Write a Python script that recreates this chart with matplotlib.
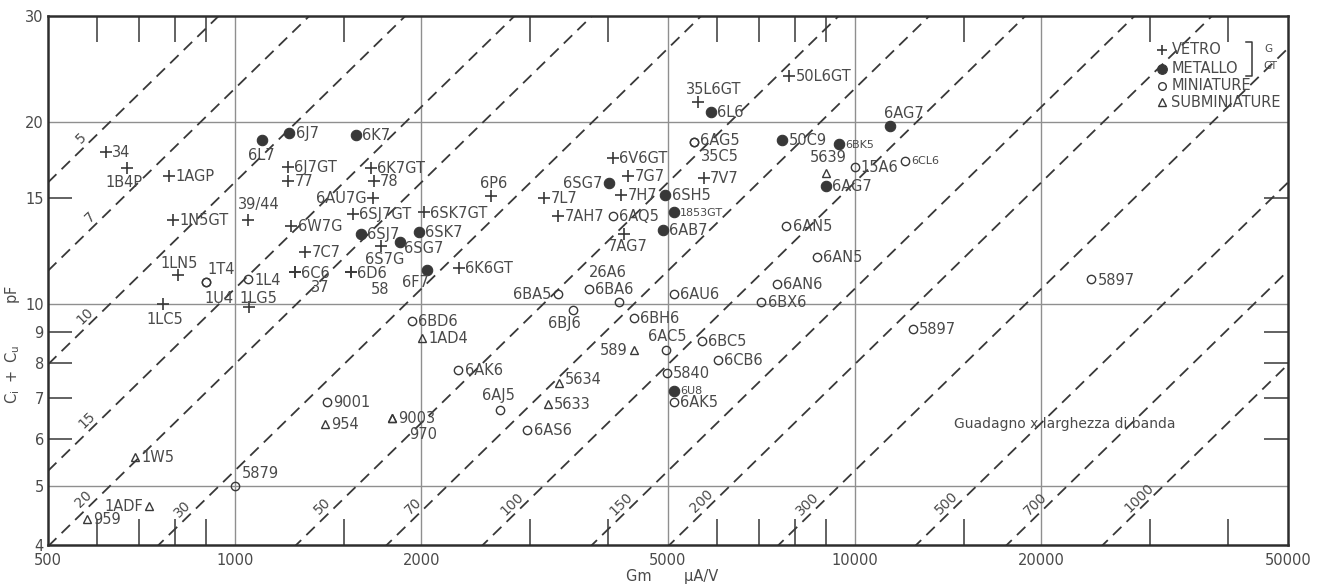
import numpy as np
import matplotlib
matplotlib.use("Agg")
import matplotlib.pyplot as plt
from matplotlib.ticker import NullFormatter

# Tube data: transconductance Gm (µA/V), input + output capacitance (pF), construction
# V = vetro (glass), M = metallo (metal), m = miniature, s = subminiature
names = ["34", "1B4P", "1AGP", "1N5GT", "1LN5", "1T4", "1U4", "39/44", "1L4", "1LG5",
         "1LC5", "6L7", "6J7", "6K7", "6J7GT", "77", "6K7GT", "78", "6AU7G", "6SJ7GT",
         "6W7G", "6SJ7", "6SK7", "6SK7GT", "6SG7", "7C7", "6S7G", "6C6", "37", "6D6",
         "58", "6F7", "6P6", "6K6GT", "6BA5", "6BA6", "26A6", "6BJ6", "6BH6", "6SG7",
         "6V6GT", "7G7", "7L7", "7H7", "6SH5", "7AH7", "6AQ5", "1853GT", "6AB7", "7AG7",
         "35L6GT", "6L6", "50L6GT", "6AG5", "35C5", "7V7", "50C9", "6BK5", "5639", "15A6",
         "6CL6", "6AG7", "6AG7", "6AN5", "6AN5", "6AN6", "6BX6", "6AU6", "6BC5", "6CB6",
         "5840", "6AC5", "6U8", "6AK5", "5897", "5897", "6BD6", "1AD4", "6AK6", "6AJ5",
         "5634", "5633", "6AS6", "589", "9003", "970", "9001", "954", "1W5", "5879",
         "1ADF", "959"]
gm = [620, 670, 785, 795, 810, 900, 900, 1050, 1050, 1055,
      765, 1105, 1225, 1570, 1220, 1220, 1660, 1675, 1670, 1550,
      1235, 1600, 1980, 2020, 1850, 1300, 1720, 1250, 1250, 1540,
      1540, 2040, 2590, 2300, 3320, 3730, 4170, 3515, 4400, 4015,
      4075, 4310, 3155, 4200, 4950, 3325, 4075, 5110, 4905, 4245,
      5590, 5870, 7850, 5510, 5510, 5715, 7645, 9420, 8975, 10000,
      12060, 8975, 11400, 7760, 8680, 7500, 7070, 5110, 5675, 6025,
      4980, 4960, 5110, 5110, 24100, 12400, 1930, 2005, 2295, 2680,
      3335, 3200, 2965, 4400, 1795, 1795, 1410, 1400, 690, 1000,
      728, 577]
cap = [17.9, 16.8, 16.3, 13.8, 11.2, 10.9, 10.9, 13.8, 11.0, 9.9,
       10.0, 18.7, 19.2, 19.1, 16.9, 16.0, 16.8, 16.0, 15.0, 14.1,
       13.5, 13.1, 13.2, 14.2, 12.7, 12.2, 12.5, 11.3, 11.3, 11.3,
       11.3, 11.4, 15.1, 11.5, 10.4, 10.6, 10.1, 9.8, 9.5, 15.9,
       17.5, 16.3, 15.0, 15.2, 15.2, 14.0, 14.0, 14.2, 13.3, 13.1,
       21.6, 20.8, 23.9, 18.6, 18.6, 16.2, 18.7, 18.4, 16.5, 16.9,
       17.3, 15.7, 19.7, 13.5, 12.0, 10.8, 10.1, 10.4, 8.7, 8.1,
       7.7, 8.4, 7.2, 6.9, 11.0, 9.1, 9.4, 8.8, 7.8, 6.7,
       7.4, 6.85, 6.2, 8.4, 6.5, 6.5, 6.9, 6.35, 5.6, 5.0,
       4.64, 4.42]
kind = ["V", "V", "V", "V", "V", "m", "m", "V", "m", "V",
        "V", "M", "M", "M", "V", "V", "V", "V", "V", "V",
        "V", "M", "M", "V", "M", "V", "V", "V", "V", "V",
        "V", "M", "V", "V", "m", "m", "m", "m", "m", "M",
        "V", "V", "V", "V", "M", "V", "m", "M", "M", "V",
        "V", "M", "V", "m", "m", "V", "M", "M", "s", "m",
        "m", "M", "M", "m", "m", "m", "m", "m", "m", "m",
        "m", "m", "M", "m", "m", "m", "m", "s", "m", "m",
        "s", "s", "m", "s", "s", "s", "m", "s", "s", "m",
        "s", "s"]

# Constant gain x bandwidth lines (MHz): Ci+Cu = Gm / (2 pi GB)
gb_lines = [5, 7, 10, 15, 20, 30, 50, 70, 100, 150, 200, 300, 500, 700, 1000]
gb_label_cap = [18.4, 13.6, 9.35, 6.28, 4.65, 4.47, 4.52, 4.52, 4.57, 4.56,
                4.62, 4.56, 4.59, 4.56, 4.68]

x_ticks = [500, 1000, 2000, 5000, 10000, 20000, 50000]
y_ticks = [4, 5, 6, 7, 8, 9, 10, 15, 20, 30]
x_minor = [600, 700, 800, 900, 1500, 3000, 4000, 6000, 7000, 8000, 9000,
           15000, 30000, 40000]
y_minor = [6, 7, 8, 9, 15]
x_grid = [1000, 2000, 5000, 10000, 20000]
y_grid = [5, 10, 20]

legend_kinds = ["V", "M", "m", "s"]
legend_labels = ["VETRO", "METALLO", "MINIATURE", "SUBMINIATURE"]

# ---- layout of the point labels (offset in points, horizontal alignment) ----
R = (4.5, -0.5, "left")
L = (-4.5, -0.5, "right")
label_off = [R] * len(names)
special = {
    1: (-2, -10, "center"), 4: (1, 8, "center"), 5: (1, 9, "left"),
    6: (-1, -12, "left"), 7: (-7, 11, "left"), 9: (-7, 6, "left"),
    10: (2, -11, "center"), 11: (0, -11, "center"), 18: L,
    24: (3, -5, "left"), 26: (3, -10, "center"), 28: (12, -11, "left"),
    30: (14, -12, "left"), 31: (-8, -9, "center"), 32: (2, 9, "center"),
    34: L, 36: (-8, 21, "center"), 37: (-6, -10, "center"), 39: L,
    49: (3, -9, "center"), 50: (11, 9, "center"), 53: (4.5, 1, "left"),
    54: (5, -10.5, "left"),
    58: (2, 11, "center"), 62: (10, 9, "center"), 71: (1, 10, "center"),
    79: (-1, 10, "center"), 80: (4.5, 3, "left"), 83: L,
    85: (12, -12, "left"), 89: (5, 9, "left"), 90: L,
}
for k, v in special.items():
    label_off[k] = v
small_labels = {47, 57, 60, 72}

INK = "#383838"
TXT = "#4a4a4a"
GRID = "#8f8f8f"
mstyle = {
    "V": dict(marker="+", ms=8.5, mew=1.2, mfc="none", mec=INK),
    "M": dict(marker="o", ms=7.5, mew=0.8, mfc=INK, mec=INK),
    "m": dict(marker="o", ms=6.0, mew=1.0, mfc="none", mec=INK),
    "s": dict(marker="^", ms=6.3, mew=1.0, mfc="none", mec=INK),
}

fig = plt.figure(figsize=(13.37, 5.87), dpi=100)
ax = fig.add_axes([48 / 1337, 42 / 587, 1240 / 1337, 529 / 587])
ax.set_xscale("log")
ax.set_yscale("log")
ax.set_xlim(500, 50000)
ax.set_ylim(4, 30)

for x in x_grid:
    ax.axvline(x, color=GRID, lw=1.0, zorder=1)
for y in y_grid:
    ax.axhline(y, color=GRID, lw=1.0, zorder=1)

# diagonal constant-product lines
g = np.geomspace(500, 50000, 400)
for gb in gb_lines:
    ax.plot(g, g / (2 * np.pi * gb), ls=(0, (6.5, 4)), color=INK, lw=1.3, zorder=2)

p0 = ax.transData.transform((1000, 10))
p1 = ax.transData.transform((10000, 100))
ang = np.degrees(np.arctan2(p1[1] - p0[1], p1[0] - p0[0]))
for gb, c in zip(gb_lines, gb_label_cap):
    ax.annotate(str(gb), xy=(2 * np.pi * gb * c, c), xytext=(-1.0, 1.0),
                textcoords="offset points", rotation=ang, rotation_mode="anchor",
                ha="center", va="bottom", fontsize=10, color=TXT, zorder=3)

# tubes
for i, (n, x, y, k) in enumerate(zip(names, gm, cap, kind)):
    ax.plot([x], [y], ls="none", zorder=4, **mstyle[k])
    dx, dy, ha = label_off[i]
    ax.annotate(n, xy=(x, y), xytext=(dx, dy), textcoords="offset points",
                ha=ha, va="center", fontsize=8 if i in small_labels else 10.5,
                color=TXT, zorder=5)

# axes frame and ticks
for s in ax.spines.values():
    s.set_linewidth(1.8)
    s.set_color("#2e2e2e")
ax.set_xticks(x_ticks)
ax.set_xticklabels([str(v) for v in x_ticks])
ax.set_xticks(x_minor, minor=True)
ax.xaxis.set_minor_formatter(NullFormatter())
ax.set_yticks(y_ticks)
ax.set_yticklabels([str(v) for v in y_ticks])
ax.set_yticks(y_minor, minor=True)
ax.yaxis.set_minor_formatter(NullFormatter())
ax.yaxis.remove_overlapping_locs = False
ax.tick_params(which="major", length=0, labelsize=10.5, labelcolor=TXT)
ax.tick_params(axis="x", which="major", pad=6)
ax.tick_params(axis="y", which="major", pad=3)
ax.tick_params(axis="x", which="minor", direction="in", length=19, width=1.1,
               top=True, bottom=True, color=INK)
ax.tick_params(axis="y", which="minor", direction="in", length=17, width=1.1,
               left=True, right=True, color=INK)

fig.text(672 / 1337, 1 - 577 / 587, "Gm       \u00b5A/V", ha="center", va="center",
         fontsize=10.5, color=TXT)
fig.text(13 / 1337, 1 - 345 / 587, r"$\mathregular{C_i\ +\ C_u}$         pF",
         rotation=90, ha="center", va="center", fontsize=10.5, color=TXT)

# legend
leg_y = [0.936, 0.900, 0.868, 0.837]
for k, lab, yy in zip(legend_kinds, legend_labels, leg_y):
    st = dict(mstyle[k])
    if k == "V":
        st["ms"] = 7
    elif k == "M":
        st["ms"] = 7
    else:
        st["ms"] = 5.5
    ax.plot([0.898], [yy], transform=ax.transAxes, clip_on=False, ls="none", **st)
    ax.text(0.906, yy, lab, transform=ax.transAxes, ha="left", va="center",
            fontsize=10.5, color=TXT)
ax.plot([0.966, 0.971, 0.971, 0.966], [0.951, 0.951, 0.887, 0.887],
        transform=ax.transAxes, color=INK, lw=1.1, clip_on=False)
ax.text(0.984, 0.938, "G", transform=ax.transAxes, ha="center", va="center",
        fontsize=7.5, color=TXT)
ax.text(0.986, 0.905, "GT", transform=ax.transAxes, ha="center", va="center",
        fontsize=7.5, color=TXT)

ax.text(0.820, 0.229, "Guadagno x larghezza di banda", transform=ax.transAxes,
        ha="center", va="center", fontsize=10, color=TXT)

fig.savefig("out.png", dpi=100, facecolor="white")
